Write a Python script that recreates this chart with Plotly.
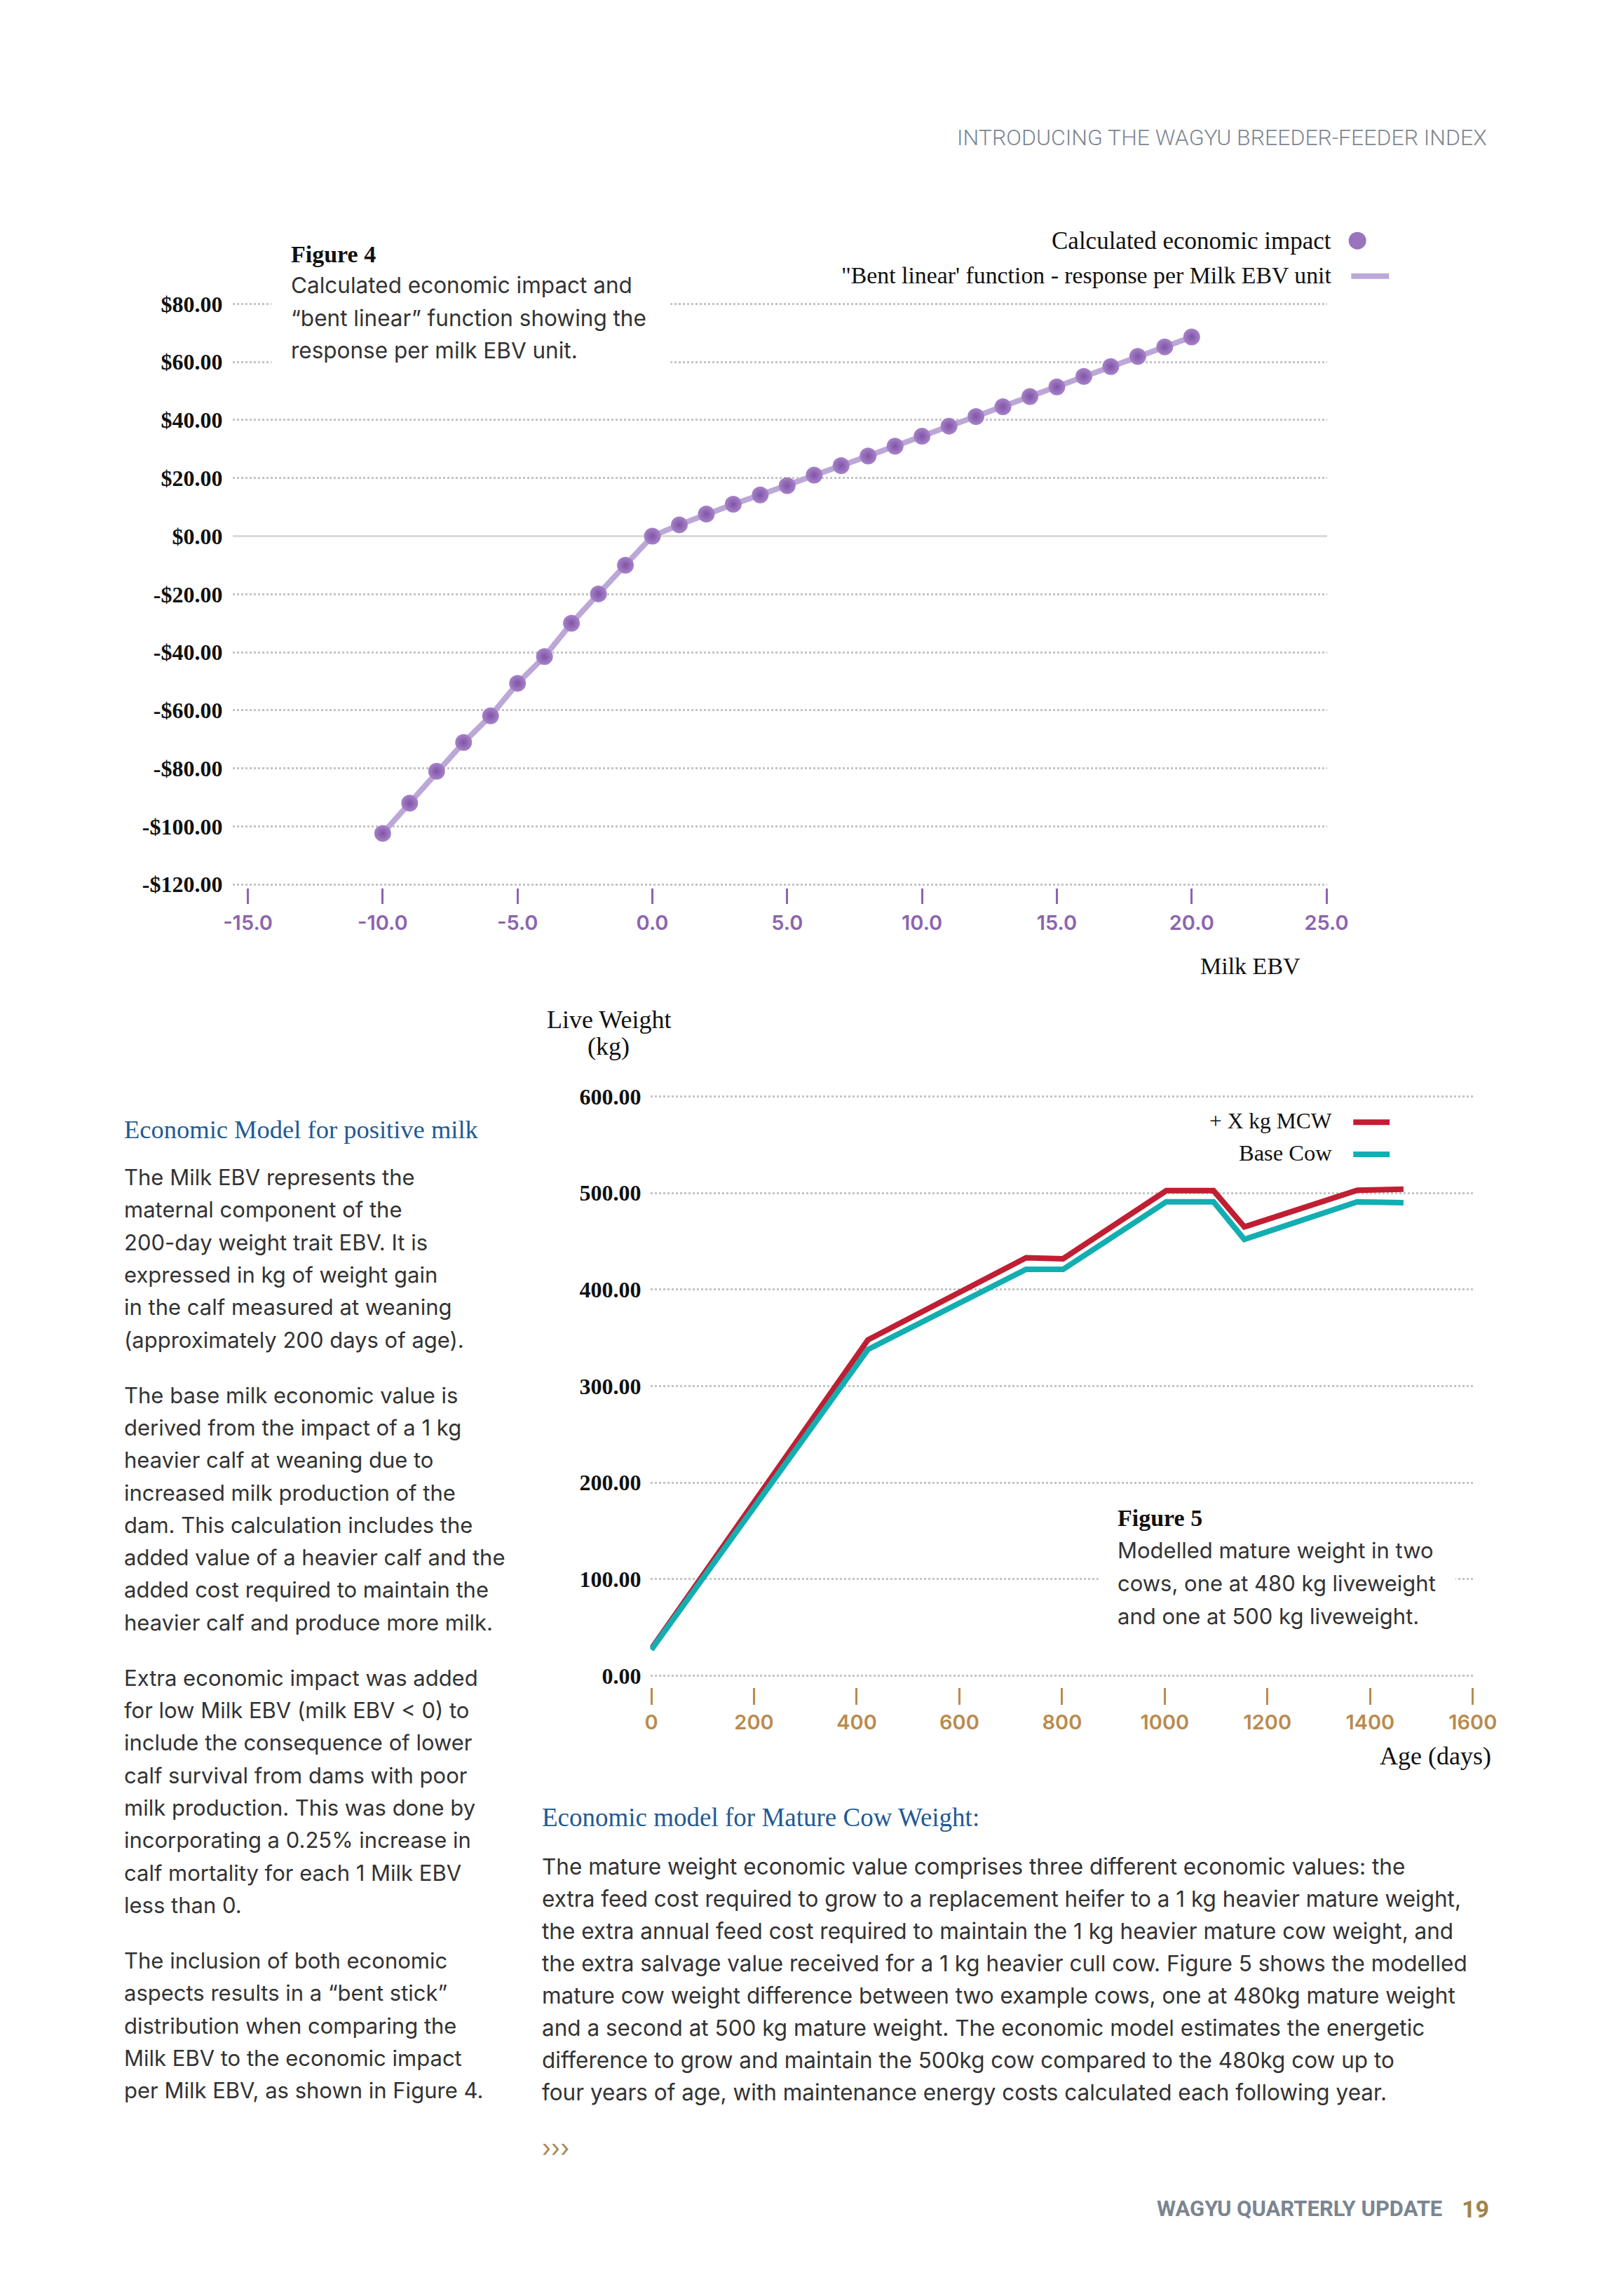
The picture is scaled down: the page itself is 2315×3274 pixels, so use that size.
import plotly.graph_objects as go

W, H = 2315, 3274

# ---------------- data: Figure 4 ----------------
milk_ebv = [-10, -9, -8, -7, -6, -5, -4, -3, -2, -1, 0,
            1, 2, 3, 4, 5, 6, 7, 8, 9, 10,
            11, 12, 13, 14, 15, 16, 17, 18, 19, 20]
econ_impact = [-102.4, -92.0, -81.0, -71.1, -61.9, -50.7, -41.5, -30.0, -19.9, -10.0, 0.0,
               3.9, 7.6, 11.0, 14.2, 17.4, 21.0, 24.3, 27.6, 31.0, 34.4,
               37.9, 41.2, 44.6, 48.1, 51.4, 55.0, 58.4, 61.9, 65.2, 68.6]
fig4_xticks = [-15, -10, -5, 0, 5, 10, 15, 20, 25]
fig4_xticktext = ["-15.0", "-10.0", "-5.0", "0.0", "5.0", "10.0", "15.0", "20.0", "25.0"]
fig4_yticks = [-120, -100, -80, -60, -40, -20, 0, 20, 40, 60, 80]
fig4_yticktext = ["-$120.00", "-$100.00", "-$80.00", "-$60.00", "-$40.00", "-$20.00",
                  "$0.00", "$20.00", "$40.00", "$60.00", "$80.00"]

# ---------------- data: Figure 5 ----------------
age_days = [0, 422, 730, 802, 1003, 1095, 1155, 1375, 1465]
mcw_plus = [28, 348, 433, 432, 502.5, 502.5, 465, 503, 504]
base_cow = [27, 338, 421, 421, 491, 491, 452, 491, 490]
fig5_xticks = [0, 200, 400, 600, 800, 1000, 1200, 1400, 1600]
fig5_xticktext = ["0", "200", "400", "600", "800", "1000", "1200", "1400", "1600"]
fig5_yticks = [0, 100, 200, 300, 400, 500, 600]
fig5_yticktext = ["0.00", "100.00", "200.00", "300.00", "400.00", "500.00", "600.00"]

# ---------------- text ----------------
header_text = "INTRODUCING THE WAGYU BREEDER-FEEDER INDEX"
footer_text = "WAGYU QUARTERLY UPDATE"
page_number = "19"
fig4_title = "Figure 4"
fig4_caption = ["Calculated economic impact and",
                "“bent linear” function showing the",
                "response per milk EBV unit."]
fig4_legend = ["Calculated economic impact",
               "\"Bent linear' function - response per Milk EBV unit"]
fig4_xtitle = "Milk EBV"
fig5_title = "Figure 5"
fig5_caption = ["Modelled mature weight in two",
                "cows, one at 480 kg liveweight",
                "and one at 500 kg liveweight."]
fig5_legend = ["+ X kg MCW", "Base Cow"]
fig5_ytitle = ["Live Weight", "(kg)"]
fig5_xtitle = "Age (days)"
left_heading = "Economic Model for positive milk"
left_paras = [
    ["The Milk EBV represents the", "maternal component of the",
     "200-day weight trait EBV. It is", "expressed in kg of weight gain",
     "in the calf measured at weaning", "(approximately 200 days of age)."],
    ["The base milk economic value is", "derived from the impact of a 1 kg",
     "heavier calf at weaning due to", "increased milk production of the",
     "dam. This calculation includes the", "added value of a heavier calf and the",
     "added cost required to maintain the", "heavier calf and produce more milk."],
    ["Extra economic impact was added", "for low Milk EBV (milk EBV &lt; 0) to",
     "include the consequence of lower", "calf survival from dams with poor",
     "milk production. This was done by", "incorporating a 0.25% increase in",
     "calf mortality for each 1 Milk EBV", "less than 0."],
    ["The inclusion of both economic", "aspects results in a “bent stick”",
     "distribution when comparing the", "Milk EBV to the economic impact",
     "per Milk EBV, as shown in Figure 4."],
]
bottom_heading = "Economic model for Mature Cow Weight:"
bottom_lines = [
    "The mature weight economic value comprises three different economic values: the",
    "extra feed cost required to grow to a replacement heifer to a 1 kg heavier mature weight,",
    "the extra annual feed cost required to maintain the 1 kg heavier mature cow weight, and",
    "the extra salvage value received for a 1 kg heavier cull cow. Figure 5 shows the modelled",
    "mature cow weight difference between two example cows, one at 480kg mature weight",
    "and a second at 500 kg mature weight. The economic model estimates the energetic",
    "difference to grow and maintain the 500kg cow compared to the 480kg cow up to",
    "four years of age, with maintenance energy costs calculated each following year.",
]
chevrons = "›››"

# ---------------- styles ----------------
SERIF = "Liberation Serif"
SANS = "Inter"
PURPLE = "#8c64b0"
PURPLE_LINE = "#bca8d7"
RED = "#c01f33"
TEAL = "#13aeb1"
TAN = "#b98b4e"
BLUE = "#1f5a96"
GRAY = "#7b8591"
TXT = "#333333"
GRID = "#c4c4c4"


def px_x(x):
    return x / W


def px_y(y):
    return 1 - y / H


fig = go.Figure()

fig.add_trace(go.Scatter(
    x=milk_ebv, y=econ_impact, mode="lines+markers",
    line=dict(color=PURPLE_LINE, width=8),
    marker=dict(size=24, color="#a783c8", line=dict(width=0),
                gradient=dict(type="radial", color="#8053a7")),
    xaxis="x", yaxis="y", showlegend=False, cliponaxis=False))

fig.add_trace(go.Scatter(
    x=age_days, y=mcw_plus, mode="lines", line=dict(color=RED, width=8),
    xaxis="x2", yaxis="y2", showlegend=False))
fig.add_trace(go.Scatter(
    x=age_days, y=base_cow, mode="lines", line=dict(color=TEAL, width=8),
    xaxis="x2", yaxis="y2", showlegend=False))

annotations = []


def add_text(x, y, text, size, color, family, xanchor="left", weight="normal"):
    annotations.append(dict(
        x=px_x(x), y=px_y(y), xref="paper", yref="paper", text=text,
        showarrow=False, xanchor=xanchor, yanchor="middle", align=xanchor,
        borderpad=0,
        font=dict(family=family, size=size, color=color, weight=weight)))


# header / footer
add_text(2152, 183, header_text, 32, GRAY, "Roboto", "right", 300)
add_text(2086, 3162, footer_text, 31, GRAY, "Roboto", "right", "bold")
add_text(2113, 3162, page_number, 34, "#a3824b", "Roboto", "left", "bold")

# figure 4 caption & legend
add_text(408, 350, fig4_title, 34, "#111111", SERIF, "left", "bold")
for i, line in enumerate(fig4_caption):
    add_text(408, 395 + i * 47, line, 31.5, TXT, SANS)
add_text(1925, 331, fig4_legend[0], 35, "#111111", SERIF, "right")
add_text(1925, 381, fig4_legend[1], 33.8, "#111111", SERIF, "right")
add_text(1806, 1374, fig4_xtitle, 34, "#111111", SERIF, "center")

# figure 5 caption & legend
add_text(1612, 2168, fig5_title, 34, "#111111", SERIF, "left", "bold")
for i, line in enumerate(fig5_caption):
    add_text(1612, 2214 + i * 47.5, line, 31, TXT, SANS)
add_text(1926, 1597, fig5_legend[0], 31.5, "#111111", SERIF, "right")
add_text(1926, 1643, fig5_legend[1], 32.5, "#111111", SERIF, "right")
add_text(872, 1451, fig5_ytitle[0], 36, "#111111", SERIF, "center")
add_text(872, 1490, fig5_ytitle[1], 36, "#111111", SERIF, "center")
add_text(2158, 2510, fig5_xtitle, 36, "#111111", SERIF, "right")

# left column
add_text(165, 1609, left_heading, 36.5, BLUE, SERIF)
y = 1678
for p in left_paras:
    for line in p:
        add_text(165, y, line, 31, TXT, SANS)
        y += 46.7
    y += 33

# bottom text
add_text(774, 2599, bottom_heading, 37, BLUE, SERIF)
for i, line in enumerate(bottom_lines):
    add_text(774, 2669 + i * 46.5, line, 31.5, TXT, SANS)
add_text(774, 3074, chevrons, 34, "#a58a55", SANS)

shapes = [
    # caption backgrounds (interrupt gridlines)
    dict(type="rect", xref="paper", yref="paper", x0=px_x(381), x1=px_x(962),
         y0=px_y(545), y1=px_y(325), fillcolor="white", line=dict(width=0), layer="above"),
    dict(type="rect", xref="paper", yref="paper", x0=px_x(1585), x1=px_x(2105),
         y0=px_y(2345), y1=px_y(2135), fillcolor="white", line=dict(width=0), layer="above"),
    # figure 4 legend symbols
    dict(type="circle", xref="paper", yref="paper", xsizemode="pixel", ysizemode="pixel",
         xanchor=px_x(1962), yanchor=px_y(331), x0=-12.5, x1=12.5, y0=-12.5, y1=12.5,
         fillcolor="#9a74bd", line=dict(width=0)),
    dict(type="line", xref="paper", yref="paper", x0=px_x(1953), x1=px_x(2008),
         y0=px_y(382), y1=px_y(382), line=dict(color=PURPLE_LINE, width=8)),
    # figure 5 legend symbols
    dict(type="line", xref="paper", yref="paper", x0=px_x(1956), x1=px_x(2009),
         y0=px_y(1599), y1=px_y(1599), line=dict(color=RED, width=8)),
    dict(type="line", xref="paper", yref="paper", x0=px_x(1956), x1=px_x(2009),
         y0=px_y(1645), y1=px_y(1645), line=dict(color=TEAL, width=8)),
]

fig.update_layout(
    width=W, height=H, margin=dict(l=0, r=0, t=0, b=0),
    paper_bgcolor="white", plot_bgcolor="white", showlegend=False,
    annotations=annotations, shapes=shapes,
    xaxis=dict(domain=[px_x(325), px_x(1917.8)], range=[-15.55, 25.02], anchor="y",
               tickmode="array", tickvals=fig4_xticks, ticktext=fig4_xticktext,
               showgrid=False, zeroline=False, showline=False,
               ticks="outside", ticklen=22, tickwidth=3, tickcolor=PURPLE,
               ticklabelstandoff=2,
               tickfont=dict(family=SANS, size=29, color=PURPLE, weight=600)),
    yaxis=dict(domain=[px_y(1262), px_y(417.8)], range=[-121.2, 81], anchor="x",
               tickmode="array", tickvals=fig4_yticks, ticktext=fig4_yticktext,
               showgrid=True, gridcolor=GRID, gridwidth=2.5, griddash="3px,3px",
               zeroline=True, zerolinecolor="#dadada", zerolinewidth=3,
               showline=False, ticks="", ticklabelstandoff=14,
               tickfont=dict(family=SERIF, size=32, color="#111111", weight="bold")),
    xaxis2=dict(domain=[px_x(932.5), px_x(2131.5)], range=[-2, 1602], anchor="y2",
                tickmode="array", tickvals=fig5_xticks, ticktext=fig5_xticktext,
                showgrid=False, zeroline=False, showline=False,
                ticks="outside", ticklen=24, tickwidth=3, tickcolor=TAN,
                ticklabelstandoff=0,
                tickfont=dict(family=SANS, size=29, color=TAN, weight=600)),
    yaxis2=dict(domain=[px_y(2411.7), px_y(1559.2)], range=[-12, 602], anchor="x2",
                tickmode="array", tickvals=fig5_yticks, ticktext=fig5_yticktext,
                showgrid=True, gridcolor=GRID, gridwidth=2.5, griddash="3px,3px",
                zeroline=False, showline=False, ticks="", ticklabelstandoff=12,
                tickfont=dict(family=SERIF, size=32, color="#111111", weight="bold")),
)

fig.write_html("out.html", config={"displayModeBar": False},
               post_script="document.body.style.margin='0';document.body.style.overflow='hidden';")
